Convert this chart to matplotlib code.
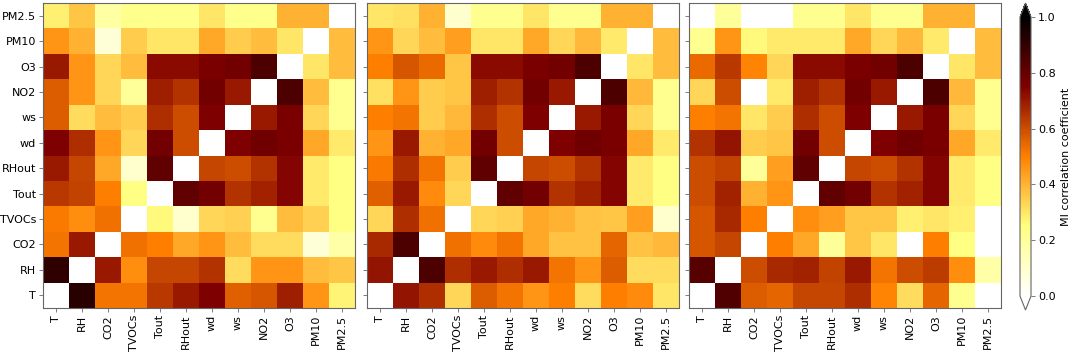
import numpy as np
import matplotlib
matplotlib.use("Agg")
import matplotlib.pyplot as plt

labels = ["T", "RH", "CO2", "TVOCs", "Tout", "RHout", "wd", "ws", "NO2", "O3", "PM10", "PM2.5"]

# rows ordered bottom (T) to top (PM2.5); columns T .. PM2.5
mi_panel1 = [
    [0.00, 0.92, 0.52, 0.52, 0.64, 0.70, 0.75, 0.56, 0.58, 0.69, 0.46, 0.27],
    [0.91, 0.00, 0.70, 0.47, 0.61, 0.61, 0.65, 0.32, 0.46, 0.46, 0.38, 0.36],
    [0.52, 0.70, 0.00, 0.53, 0.50, 0.42, 0.46, 0.38, 0.32, 0.32, 0.08, 0.17],
    [0.51, 0.47, 0.53, 0.00, 0.26, 0.10, 0.33, 0.34, 0.22, 0.38, 0.34, 0.24],
    [0.64, 0.62, 0.50, 0.24, 0.00, 0.81, 0.77, 0.65, 0.68, 0.74, 0.29, 0.24],
    [0.70, 0.61, 0.42, 0.10, 0.81, 0.00, 0.61, 0.60, 0.65, 0.74, 0.29, 0.24],
    [0.75, 0.66, 0.46, 0.33, 0.77, 0.60, 0.00, 0.75, 0.78, 0.76, 0.42, 0.29],
    [0.57, 0.32, 0.38, 0.35, 0.66, 0.60, 0.75, 0.00, 0.70, 0.76, 0.33, 0.22],
    [0.57, 0.46, 0.33, 0.20, 0.69, 0.65, 0.77, 0.70, 0.00, 0.85, 0.38, 0.22],
    [0.70, 0.46, 0.33, 0.38, 0.73, 0.73, 0.76, 0.77, 0.85, 0.00, 0.30, 0.38],
    [0.46, 0.40, 0.08, 0.35, 0.30, 0.30, 0.42, 0.35, 0.38, 0.30, 0.00, 0.38],
    [0.28, 0.36, 0.18, 0.23, 0.23, 0.23, 0.30, 0.23, 0.23, 0.40, 0.40, 0.00],
]

mi_panel2 = [
    [0.00, 0.71, 0.66, 0.33, 0.57, 0.52, 0.46, 0.50, 0.32, 0.50, 0.48, 0.30],
    [0.71, 0.00, 0.85, 0.66, 0.70, 0.66, 0.70, 0.52, 0.46, 0.57, 0.32, 0.32],
    [0.67, 0.85, 0.00, 0.53, 0.48, 0.52, 0.42, 0.37, 0.37, 0.55, 0.37, 0.39],
    [0.33, 0.66, 0.53, 0.00, 0.33, 0.34, 0.42, 0.40, 0.37, 0.36, 0.44, 0.10],
    [0.56, 0.70, 0.48, 0.33, 0.00, 0.81, 0.77, 0.65, 0.68, 0.74, 0.29, 0.24],
    [0.51, 0.66, 0.52, 0.35, 0.81, 0.00, 0.61, 0.60, 0.65, 0.74, 0.29, 0.24],
    [0.46, 0.70, 0.40, 0.42, 0.77, 0.60, 0.00, 0.75, 0.78, 0.76, 0.42, 0.29],
    [0.50, 0.52, 0.35, 0.39, 0.66, 0.60, 0.75, 0.00, 0.70, 0.76, 0.33, 0.22],
    [0.31, 0.46, 0.35, 0.36, 0.69, 0.65, 0.77, 0.70, 0.00, 0.85, 0.39, 0.22],
    [0.50, 0.58, 0.54, 0.36, 0.73, 0.73, 0.76, 0.77, 0.85, 0.00, 0.30, 0.38],
    [0.46, 0.33, 0.38, 0.44, 0.30, 0.30, 0.42, 0.33, 0.39, 0.29, 0.00, 0.38],
    [0.30, 0.31, 0.40, 0.10, 0.22, 0.22, 0.30, 0.22, 0.22, 0.40, 0.40, 0.00],
]

mi_panel3 = [
    [0.00, 0.84, 0.57, 0.55, 0.61, 0.61, 0.66, 0.49, 0.32, 0.55, 0.22, 0.00],
    [0.83, 0.00, 0.60, 0.67, 0.68, 0.62, 0.70, 0.52, 0.60, 0.63, 0.47, 0.17],
    [0.58, 0.61, 0.00, 0.50, 0.42, 0.20, 0.36, 0.30, 0.00, 0.50, 0.24, 0.00],
    [0.58, 0.67, 0.50, 0.00, 0.47, 0.44, 0.36, 0.36, 0.28, 0.30, 0.28, 0.00],
    [0.60, 0.68, 0.40, 0.46, 0.00, 0.81, 0.77, 0.65, 0.68, 0.74, 0.29, 0.24],
    [0.60, 0.62, 0.20, 0.44, 0.81, 0.00, 0.61, 0.60, 0.65, 0.74, 0.29, 0.24],
    [0.65, 0.71, 0.35, 0.36, 0.77, 0.60, 0.00, 0.75, 0.78, 0.76, 0.42, 0.29],
    [0.50, 0.52, 0.30, 0.35, 0.66, 0.60, 0.75, 0.00, 0.70, 0.76, 0.33, 0.22],
    [0.33, 0.60, 0.00, 0.29, 0.69, 0.65, 0.77, 0.70, 0.00, 0.85, 0.39, 0.22],
    [0.54, 0.64, 0.49, 0.33, 0.73, 0.73, 0.76, 0.77, 0.85, 0.00, 0.30, 0.38],
    [0.22, 0.46, 0.26, 0.29, 0.29, 0.29, 0.42, 0.33, 0.39, 0.29, 0.00, 0.38],
    [0.00, 0.20, 0.00, 0.00, 0.22, 0.22, 0.30, 0.22, 0.22, 0.40, 0.40, 0.00],
]

cbar_label = "MI correlation coefficient"
cbar_ticks = [0.0, 0.2, 0.4, 0.6, 0.8, 1.0]

W, H = 1072, 354
fig = plt.figure(figsize=(W / 100, H / 100), dpi=100)

panel_lefts = [43, 367, 689]
panel_w = 312
top, bottom = 3, 308
spine_col = "#666666"

im = None
for i, (left, mat) in enumerate(zip(panel_lefts, [mi_panel1, mi_panel2, mi_panel3])):
    ax = fig.add_axes([left / W, (H - bottom) / H, panel_w / W, (bottom - top) / H])
    im = ax.imshow(np.array(mat), cmap="afmhot_r", vmin=0, vmax=1,
                   origin="lower", aspect="auto", interpolation="nearest")
    ax.set_xticks(range(len(labels)))
    ax.set_xticklabels(labels, rotation=90, fontsize=8)
    ax.set_yticks(range(len(labels)))
    if i == 0:
        ax.set_yticklabels(labels, fontsize=8)
    else:
        ax.set_yticklabels([])
    ax.tick_params(length=3, width=0.6, color=spine_col, pad=2)
    for s in ax.spines.values():
        s.set_color(spine_col)
        s.set_linewidth(0.8)

cax = fig.add_axes([1020 / W, (H - 310) / H, 11 / W, 307 / H])
cb = fig.colorbar(im, cax=cax, extend="both", ticks=cbar_ticks)
cb.ax.set_yticklabels([f"{t:.1f}" for t in cbar_ticks], fontsize=8)
cb.set_label(cbar_label, fontsize=8)
cb.outline.set_edgecolor(spine_col)
cb.outline.set_linewidth(0.8)
cb.ax.tick_params(length=3, width=0.6, color=spine_col, pad=2)

fig.savefig("out.png", dpi=100)
